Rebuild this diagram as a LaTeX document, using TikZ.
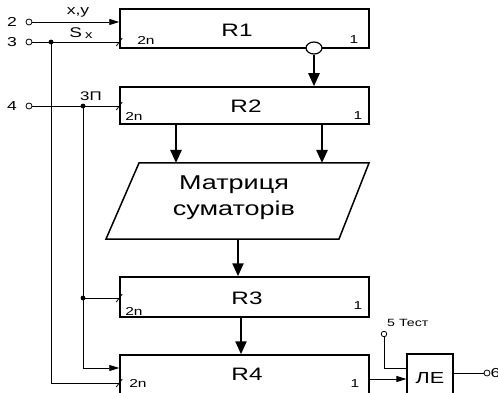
\documentclass[tikz,border=0pt]{standalone}
\usepackage{fontspec}
\usepackage{graphicx}
\setmainfont{Liberation Sans}
\usetikzlibrary{arrows.meta,shapes.geometric}
\newcommand{\stx}[1]{\scalebox{1.35}[1]{#1}}
\begin{document}
\begin{tikzpicture}[x=1pt,y=-1pt,
  reg/.style={draw, line width=1.5pt, inner sep=0pt, minimum width=249pt},
  thin/.style={line width=0.9pt},
  bigarrow/.style={line width=2.4pt, -{Triangle[length=13pt,width=11pt]}},
  smallarrow/.style={line width=0.9pt, -{Triangle[length=10pt,width=6pt]}},
  pin/.style={draw, circle, line width=0.8pt, inner sep=0pt, minimum size=6pt, fill=white},
  jdot/.style={circle, fill=black, inner sep=0pt, minimum size=4.8pt},
  lbl/.style={font=\fontsize{13}{13}\selectfont, inner sep=0pt},
  small/.style={font=\fontsize{11.5}{11.5}\selectfont, inner sep=0pt},
  big/.style={font=\fontsize{18}{18}\selectfont, inner sep=0pt},
  mtx/.style={font=\fontsize{20}{20}\selectfont, inner sep=0pt},
  slash/.style={line width=0.8pt}
]
\clip (0,0) rectangle (498,393);
\fill[white] (0,0) rectangle (498,393);

% registers
\node[reg, minimum height=39pt] (R1) at (244.5,28.5) {};
\node[reg, minimum height=37pt] (R2) at (244.5,105.5) {};
\node[reg, minimum height=40pt] (R3) at (244.5,297) {};
\node[reg, minimum height=40pt] (R4) at (244.5,375) {};
\node[draw, line width=1.1pt, minimum width=46pt, minimum height=41pt, inner sep=0pt] (LE) at (430,374.5) {};

% matrix parallelogram
\coordinate (m1) at (139,163);
\coordinate (m2) at (369,163);
\coordinate (m3) at (339,239);
\coordinate (m4) at (106,239);
\draw[line width=1.5pt, line join=miter] (m1) -- (m2) -- (m3) -- (m4) -- cycle;
\node[mtx] (M1) at (234,185) {\stx{Матриця}};
\node[mtx] (M2) at (234,210) {\stx{суматорів}};

% texts inside registers
\node[big] (tR1) at (237,30) {\stx{R1}};
\node[big] (tR2) at (246,106) {\stx{R2}};
\node[big] (tR3) at (247,298) {\stx{R3}};
\node[big] (tR4) at (247,374) {\stx{R4}};
\node[small] (n1) at (146,40) {\stx{2n}};
\node[small] (n2) at (134,116) {\stx{2n}};
\node[small] (n3) at (134,311) {\stx{2n}};
\node[small] (n4) at (138,383) {\stx{2n}};
\node[small] (o1) at (354,40) {\stx{1}};
\node[small] (o2) at (358,116) {\stx{1}};
\node[small] (o3) at (358,306) {\stx{1}};
\node[small] (o4) at (355,384) {\stx{1}};
\node[font=\fontsize{16}{16}\selectfont, inner sep=0pt] (tLE) at (430,378) {\stx{ЛЕ}};

% input pins
\node[pin] (p2) at (29,22) {};
\node[pin] (p3) at (29,42) {};
\node[pin] (p4) at (29,106) {};
\node[lbl] (l2) at (12,22) {\stx{2}};
\node[lbl] (l3) at (12,42) {\stx{3}};
\node[lbl] (l4) at (12,106) {\stx{4}};
\node[lbl] (lxy) at (78,12) {\stx{x,y}};
\node[inner sep=0pt] (lsx) at (81,33) {\stx{\fontsize{14}{14}\selectfont S\,\raisebox{-0.5pt}{\fontsize{11}{11}\selectfont x}}};
\node[font=\fontsize{12.5}{12.5}\selectfont, inner sep=0pt] (l3p) at (91,96) {\stx{3П}};

% coordinates on register inputs
\coordinate (a1) at (R1.west |- 0,22);
\coordinate (s1) at (R1.west |- 0,42);
\coordinate (s2) at (R2.west |- 0,106);
\coordinate (s3) at (R3.west |- 0,298);
\coordinate (a4) at (R4.west |- 0,368);
\coordinate (s4) at (R4.west |- 0,383);
\coordinate (j3) at (51,42);
\coordinate (j4) at (83,106);
\coordinate (j5) at (83,298);
\coordinate (c3) at (51,383);
\coordinate (c4) at (83,368);

\draw[smallarrow] (p2) -- (a1);
\draw[thin] (p3) -- (s1);
\draw[thin] (p4) -- (s2);
\draw[thin] (j3) -- (c3) -- (s4);
\draw[thin] (j4) -- (c4);
\draw[smallarrow] (c4) -- (a4);
\draw[thin] (j5) -- (s3);
\node[jdot] (d3) at (j3) {};
\node[jdot] (d4) at (j4) {};
\node[jdot] (d5) at (j5) {};

% slashes
\foreach \c in {s1,s2,s3,s4}
  \draw[slash] ([shift={(-3,4)}]\c) -- ([shift={(3,-4)}]\c);

% R1 inverted output
\node[draw, ellipse, line width=1.2pt, fill=white, minimum width=16pt, minimum height=12pt, inner sep=0pt] (inv) at (314,48) {};
\coordinate (r2in) at (R2.north -| inv);
\draw[bigarrow] (inv.south) -- (r2in);

% R2 -> matrix
\coordinate (q1) at (R2.south -| 176,0);
\coordinate (q2) at (R2.south -| 322,0);
\coordinate (q1e) at (176,163);
\coordinate (q2e) at (322,163);
\draw[bigarrow] (q1) -- (q1e);
\draw[bigarrow] (q2) -- (q2e);

% matrix -> R3 -> R4
\coordinate (mb) at (238,239);
\draw[bigarrow] (mb) -- (R3.north -| mb);
\coordinate (r3b) at (R3.south -| 241,0);
\draw[bigarrow] (r3b) -- (R4.north -| r3b);

% R4 -> LE
\coordinate (r4o) at (R4.east |- 0,379);
\draw[smallarrow] (r4o) -- (LE.west |- r4o);

% test input
\node[pin, minimum size=5.5pt] (p5) at (384,334) {};
\node[font=\fontsize{10.5}{10.5}\selectfont, inner sep=0pt, anchor=west] (l5) at (387,323) {\stx{5 Тест}};
\coordinate (t1) at (384,368);
\draw[thin] (p5) -- (t1) -- (LE.west |- t1);

% output
\node[pin] (p6) at (487,373) {};
\draw[thin] (LE.east |- p6) -- (p6);
\node[lbl, anchor=west] (l6) at (490.5,373) {\stx{6}};
\end{tikzpicture}
\end{document}
